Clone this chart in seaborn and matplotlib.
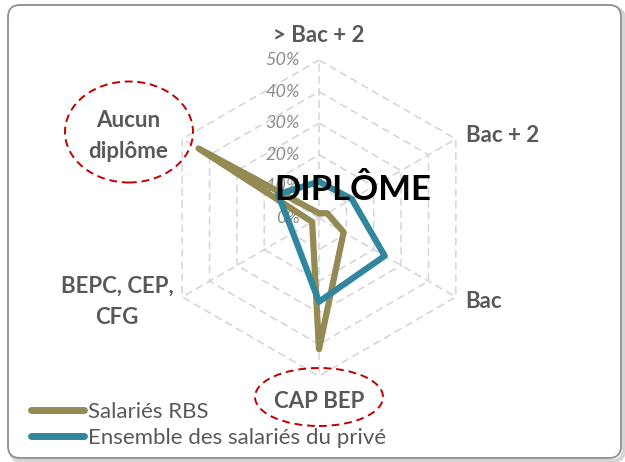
import numpy as np
import pandas as pd
import matplotlib
matplotlib.use("Agg")
import matplotlib.pyplot as plt
import seaborn as sns
from matplotlib.patches import FancyBboxPatch, Ellipse
from matplotlib.lines import Line2D
from matplotlib.transforms import IdentityTransform

# ------------------------------
# DATA (in %)
# ------------------------------
categories = ["> Bac + 2", "Bac + 2", "Bac", "CAP BEP", "BEPC, CEP,\nCFG", "Aucun\ndiplôme"]
rbs = [1.5, 3, 9, 41.5, 2.5, 44]
prive = [11.5, 12, 24, 26.5, 9.5, 15]
series = ["Salariés RBS", "Ensemble des salariés du privé"]
colors = ["#948A54", "#31859C"]
levels = [0, 10, 20, 30, 40, 50]
level_labels = ["0%", "10%", "20%", "30%", "40%", "50%"]

# long format, polygon closed on the first category
angles = np.deg2rad(np.arange(len(categories)) * 360 / len(categories))
rows = []
for name, vals in zip(series, [rbs, prive]):
    for i in list(range(len(categories))) + [0]:
        rows.append({"serie": name, "theta": angles[i], "valeur": vals[i]})
df = pd.DataFrame(rows)

sns.set_theme(style="white")
plt.rcParams["font.family"] = ["Lato", "DejaVu Sans"]

W, H = 625, 462
fig = plt.figure(figsize=(W / 100, H / 100), dpi=100)
fig.patch.set_facecolor("white")

def fx(x):
    return x / W

def fy(y):
    return 1 - y / H

# frame with a soft shadow (kept behind the axes)
shadow = FancyBboxPatch((11, 1), 613, 453, boxstyle="round,pad=0,rounding_size=12",
                        transform=IdentityTransform(), fc="none", ec="#d6d6d6", lw=3,
                        zorder=-2)
frame = FancyBboxPatch((8, 4), 613, 453, boxstyle="round,pad=0,rounding_size=12",
                       transform=IdentityTransform(), fc="white", ec="#8f8f8f", lw=1.3,
                       zorder=-1)
fig.add_artist(shadow)
fig.add_artist(frame)

# radar axes: centre at (319, 218) px, 50% radius = 158 px
cx, cy, R = 319, 218, 158
ax = fig.add_axes([fx(cx - R), fy(cy + R), 2 * R / W, 2 * R / H], projection="polar")
ax.set_facecolor("none")
ax.set_theta_zero_location("N")
ax.set_theta_direction(-1)

# dashed hexagon grid
closed = list(angles) + [angles[0]]
for lvl in levels[1:]:
    ax.plot(closed, [lvl] * len(closed), color="#d4d4d4", lw=1.1, ls=(0, (5, 3)), zorder=1)
for a in angles:
    ax.plot([a, a], [0, levels[-1]], color="#d4d4d4", lw=1.1, ls=(0, (5, 3)), zorder=1)

for lvl, lab in zip(levels, level_labels):
    ax.annotate(lab, xy=(0, lvl), xytext=(-14, 0), textcoords="offset points",
                ha="right", va="center", fontsize=13, style="italic",
                color="#8c8c8c", zorder=1.5)

sns.lineplot(data=df, x="theta", y="valeur", hue="serie", hue_order=series,
             palette=colors, sort=False, estimator=None, ax=ax, linewidth=4.5,
             solid_joinstyle="round", solid_capstyle="round", zorder=2)
ax.get_legend().remove()
ax.set_ylim(0, levels[-1])
ax.set_xticks([])
ax.set_yticks([])
ax.set_xlabel("")
ax.set_ylabel("")
ax.grid(False)
ax.spines["polar"].set_visible(False)

# category labels
label_pos = [(319, 35), (503, 136), (484, 302), (319, 402), (117, 302), (128, 136)]
for lab, (x, y) in zip(categories, label_pos):
    fig.text(fx(x), fy(y), lab, ha="center", va="center", fontsize=16,
             weight="bold", color="#595959", linespacing=1.6)

# red dashed highlight ellipses
for (x, y, w, h) in [(129, 132, 128, 101), (319, 397, 128, 58)]:
    fig.add_artist(Ellipse((fx(x), fy(y)), w / W, h / H, transform=fig.transFigure,
                           fc="none", ec="#C00000", lw=1.4, ls=(0, (4, 2.5))))

fig.text(fx(353), fy(190), "DIPLÔME", ha="center", va="center",
         fontsize=25, weight="bold", color="black")

handles = [Line2D([], [], color=c, lw=5, solid_capstyle="round") for c in colors]
fig.legend(handles, series, loc="center left", bbox_to_anchor=(fx(31), fy(425)),
           frameon=False, fontsize=16, labelcolor="#595959", handlelength=2.4,
           handletextpad=0.15, labelspacing=0.25, borderpad=0, borderaxespad=0)

fig.savefig("out.png", dpi=100)
